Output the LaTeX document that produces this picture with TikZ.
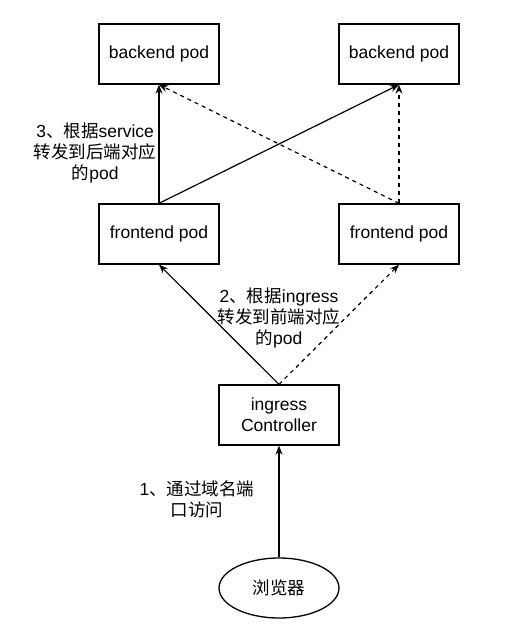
\documentclass[tikz,border=0pt]{standalone}
\usepackage{fontspec}
\setmainfont{Liberation Sans}
\newfontfamily\cjk{Noto Sans CJK SC}
\newcommand{\zh}[1]{{\cjk #1}}
\usetikzlibrary{arrows.meta,shapes.geometric}

\begin{document}
\begin{tikzpicture}[
        x=1pt, y=-1pt,
        font=\fontsize{17.5}{21}\selectfont,
        pod/.style={rectangle, draw=black, line width=1.3pt, fill=white, minimum width=120pt, minimum height=60pt, align=center},
        client/.style={ellipse, draw=black, line width=1.3pt, fill=white, minimum width=120pt, minimum height=60pt, align=center},
        note/.style={align=center, inner sep=2pt},
        flow/.style={-{Stealth[length=9pt,width=7pt]}, line width=1.2pt},
        backup/.style={flow, dash pattern=on 4pt off 4pt}
    ]
        \useasboundingbox (0,0) rectangle (518,638);

        % Pods
        \node[pod] (backL) at (159,54) {backend pod};
        \node[pod] (backR) at (399,54) {backend pod};
        \node[pod] (frontL) at (159,234) {frontend pod};
        \node[pod] (frontR) at (399,234) {frontend pod};

        % Entry
        \node[pod] (ingress) at (279,415) {ingress\\Controller};
        \node[client] (browser) at (279,588) {\zh{浏览器}};

        % Flows
        \draw[flow] (browser) -- (ingress);
        \draw[flow] (ingress.north) -- (frontL.south);
        \draw[backup] (ingress.north) -- (frontR.south);
        \draw[flow] (frontL.north) -- node[note, pos=0.425, left] {3\zh{、根据}service\\\zh{转发到后端对应}\\\zh{的}pod} (backL.south);
        \draw[flow] (frontL.north) -- (backR.south);
        \draw[backup] (frontR.north) -- (backR.south);
        \draw[backup] (frontR.north) -- (backL.south);

        % Labels
        \node[note] (step1) at (197,499) {1\zh{、通过域名端}\\\zh{口访问}};
        \node[note] (step2) at (279,318) {2\zh{、根据}ingress\\\zh{转发到前端对应}\\\zh{的}pod};

    \end{tikzpicture}
\end{document}
